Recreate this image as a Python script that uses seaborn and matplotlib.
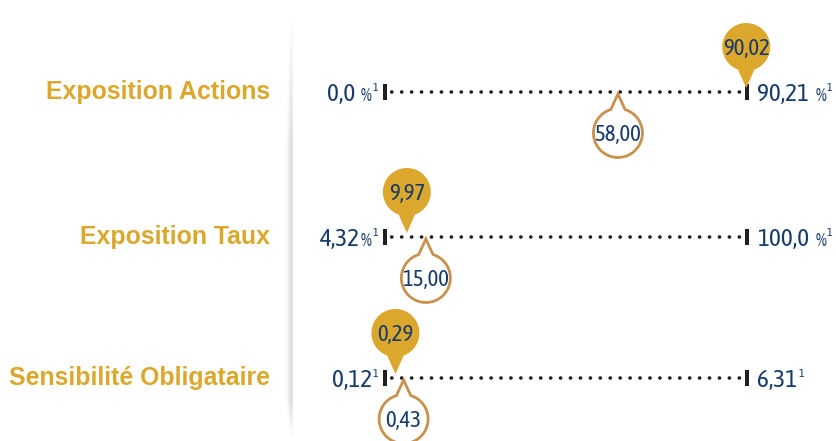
import os
import numpy as np
import pandas as pd
import matplotlib
matplotlib.use("Agg")
import matplotlib.pyplot as plt
import seaborn as sns
from matplotlib.path import Path
from matplotlib.patches import PathPatch
from matplotlib.transforms import Affine2D, ScaledTranslation
from matplotlib import font_manager as fm
from matplotlib.font_manager import FontProperties
from matplotlib.textpath import TextPath

# ---------------- data ----------------
categories = ["Exposition Actions", "Exposition Taux", "Sensibilité Obligataire"]
range_min = [0.0, 4.32, 0.12]
range_max = [90.21, 100.0, 6.31]
min_labels = ["0,0", "4,32", "0,12"]
max_labels = ["90,21", "100,0", "6,31"]
min_units = [" %", "%", ""]
max_units = [" %", " %", ""]
footnote = "1"
fund_values = [90.02, 9.97, 0.29]     # gold bubbles
ref_values = [58.00, 15.00, 0.43]     # white bubbles


def fr(v):
    return f"{v:.2f}".replace(".", ",")


# ---------------- style ----------------
sns.set_theme(style="white")
plt.rcParams["font.family"] = ["Liberation Sans", "DejaVu Sans"]

GOLD = "#DBA72C"
TAN = "#C8914E"
NAVY = "#173B6C"
DARK = "#231F20"


# pick the narrowest-looking regular sans font available for the figures
def measure(fp, s):
    ext = TextPath((0, 0), s, size=100, prop=fp).get_extents()
    return ext.width / 100.0, ext.height / 100.0


def pick_narrow():
    files = set(f.fname for f in fm.fontManager.ttflist)
    try:
        files |= set(fm.findSystemFonts())
    except Exception:
        pass
    bad = ["bold", "italic", "oblique", "light", "thin", "black", "medium",
           "heavy", "mono", "serif", "book"]
    cands = []
    for p in files:
        b = os.path.basename(p).lower()
        if not b.endswith((".ttf", ".otf")):
            continue
        if ("condensed" in b or "narrow" in b) and not any(x in b for x in bad):
            cands.append(p)
    best, best_d = None, 1e9
    target = 50.0 / 18.0
    for p in sorted(cands):
        try:
            fp = FontProperties(fname=p)
            w, _ = measure(fp, "90,21")
            _, h = measure(fp, "90")
            d = abs(w / h - target)
            if d < best_d:
                best, best_d = fp, d
        except Exception:
            continue
    if best is None:
        best = FontProperties(family="Liberation Sans")
    return best


NUMFP = pick_narrow()


def size_for(sample, target_w, target_h):
    w, _ = measure(NUMFP, sample)
    _, h = measure(NUMFP, "90")
    px = min(target_w / w, target_h / h)
    return px * 0.72


MAIN_FS = size_for("90,21", 53, 18)
BUB_FS = size_for("90,02", 45, 16.5)
PCT_FS = size_for("%", 11.5, 12.5)
SUP_FS = size_for("1", 6, 8.5)


def numfont(size):
    fp = NUMFP.copy()
    fp.set_size(size)
    return fp


W, H = 837, 441
fig = plt.figure(figsize=(W / 100, H / 100), dpi=100)

# background axes in pixel units (labels + separator)
bg = fig.add_axes([0, 0, 1, 1])
bg.axis("off")

# soft vertical separator
xs = np.arange(280, 297) + 0.5
ys = np.arange(16, 441) + 0.5
fade = np.clip((ys - 18) / 130, 0, 1) ** 0.8 * np.clip((440 - ys) / 40, 0, 1)
rgba = np.zeros((len(ys), len(xs), 4))
rgba[..., 0] = 0.83
rgba[..., 1] = 0.83
rgba[..., 2] = 0.85
for j, x in enumerate(xs):
    d = x - 291.0
    for i2, f in enumerate(fade):
        wl = 1.0 + 3.0 * f
        if d <= 1.0:
            a = np.exp(-((d - 1.0) / wl) ** 2)
        else:
            a = np.exp(-((d - 1.0) / 0.8) ** 2)
        rgba[i2, j, 3] = 0.8 * a * f
bg.imshow(rgba, extent=(280, 297, 441, 16), aspect="auto", interpolation="bilinear")
bg.set_xlim(0, W)
bg.set_ylim(H, 0)

X0, X1 = 385.5, 747.0
row_y = [92, 237, 378]

tick_marker = [(-1, -4), (1, -4), (1, 4), (-1, 4)]


def bubble_path(r, tip, up, a):
    phi = 90 if up else -90
    arc = Path.arc(phi + a, phi + 360 - a)
    verts = list(arc.vertices * r)
    codes = list(arc.codes)
    verts += [(0, tip if up else -tip), (0, 0)]
    codes += [Path.LINETO, Path.CLOSEPOLY]
    return Path(verts, codes)


def chain(ax, pieces, anchor, side, first_gap):
    """pieces: list of (text, size, dy, gap_before) in reading order."""
    prev = None
    seq = pieces if side == "right" else list(reversed(pieces))
    for k, (txt, size, dy, gap) in enumerate(seq):
        if side == "right":
            g = first_gap if prev is None else gap
            if prev is None:
                xy, xyc = (anchor, 0), "data"
            else:
                xy, xyc = (1, 0), (prev, "data")
            t = ax.annotate(txt, xy=xy, xycoords=xyc, xytext=(g, dy),
                            textcoords="offset pixels", ha="left", va="baseline",
                            fontproperties=numfont(size), color=NAVY,
                            annotation_clip=False)
        else:
            if prev is None:
                xy, xyc, g = (anchor, 0), "data", first_gap
            else:
                xy, xyc = (0, 0), (prev, "data")
                g = seq[k - 1][3]
            t = ax.annotate(txt, xy=xy, xycoords=xyc, xytext=(-g, dy),
                            textcoords="offset pixels", ha="right", va="baseline",
                            fontproperties=numfont(size), color=NAVY,
                            annotation_clip=False)
        prev = t


def pieces_for(num, unit):
    p = [(num, MAIN_FS, -9, 0)]
    if unit:
        p.append(("%", PCT_FS, -9, 6 if unit.startswith(" ") else 1))
    p.append((footnote, SUP_FS, 1.0, 1))
    return p


for i, cat in enumerate(categories):
    lo, hi = range_min[i], range_max[i]
    yc = row_y[i]
    ax = fig.add_axes([X0 / W, (H - yc - 5) / H, (X1 - X0) / W, 10 / H])
    ax.axis("off")

    # dotted gauge line
    sns.lineplot(x=[lo, hi], y=[0, 0], ax=ax, color=DARK, linewidth=2.6,
                 linestyle=(0.9, (0.05, 2.7)), dash_capstyle="round",
                 legend=False, zorder=2)
    # end ticks
    sns.scatterplot(x=[lo, hi], y=[0, 0], ax=ax, marker=tick_marker, s=133,
                    color=DARK, linewidth=0, clip_on=False, zorder=3, legend=False)
    ax.set_xlim(lo, hi)
    ax.set_ylim(-1, 1)

    # gold bubble (above)
    v = fund_values[i]
    tr = Affine2D().translate(0, 45) + ScaledTranslation(v, 0, ax.transData)
    ax.add_patch(PathPatch(bubble_path(24, 41, False, 20), transform=tr,
                           facecolor=GOLD, edgecolor="none", clip_on=False, zorder=5))
    ax.annotate(fr(v), xy=(v, 0), xytext=(0, 45 - 8), textcoords="offset pixels",
                ha="center", va="baseline", fontproperties=numfont(BUB_FS),
                color=NAVY, zorder=6, annotation_clip=False)

    # white bubble (below)
    w = ref_values[i]
    tr2 = Affine2D().translate(0, -41) + ScaledTranslation(w, 0, ax.transData)
    ax.add_patch(PathPatch(bubble_path(24.5, 39, True, 17), transform=tr2,
                           facecolor="white", edgecolor=TAN, linewidth=2.0,
                           clip_on=False, zorder=5))
    ax.annotate(fr(w), xy=(w, 0), xytext=(0, -41 - 8), textcoords="offset pixels",
                ha="center", va="baseline", fontproperties=numfont(BUB_FS),
                color=NAVY, zorder=6, annotation_clip=False)

    # min / max labels
    chain(ax, pieces_for(min_labels[i], min_units[i]), lo, "left", 7)
    chain(ax, pieces_for(max_labels[i], max_units[i]), hi, "right", 10)

    # category label
    bg.text(270, yc + 7, cat, ha="right", va="baseline", color=GOLD,
            fontsize=17.9, fontweight="bold", family=["Liberation Sans", "DejaVu Sans"])

fig.savefig("out.png", dpi=100)
